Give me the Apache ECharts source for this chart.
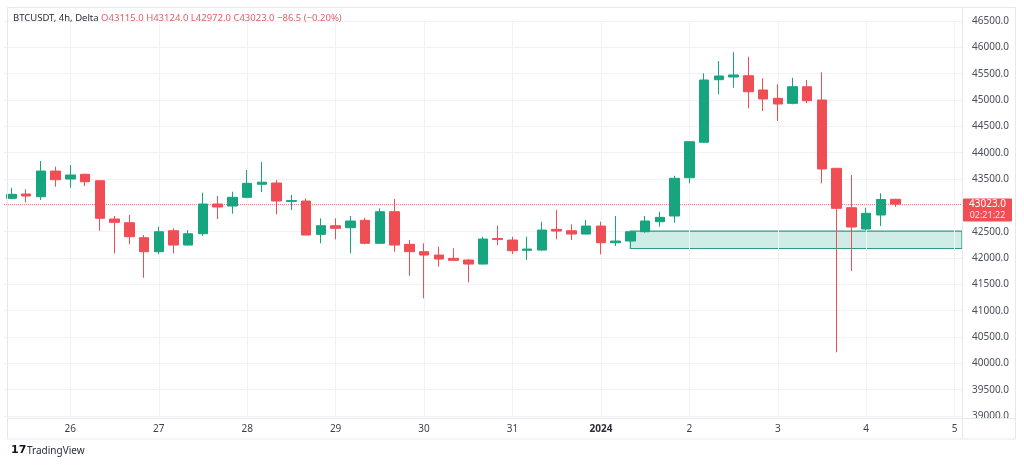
<!DOCTYPE html>
<html>
<head>
<meta charset="utf-8">
<script src="https://cdn.jsdelivr.net/npm/echarts@6/dist/echarts.min.js"></script>
<style>
  html, body { margin: 0; padding: 0; background: #fff; }
  #main { width: 1024px; height: 467px; }
</style>
</head>
<body>
<div id="main"></div>
<script>
// 4h candles BTCUSDT, Dec 25 08:00 -> Jan 4 08:00, plus empty slots up to Jan 5
var times = [
    'Dec 25 08:00','Dec 25 12:00','Dec 25 16:00','Dec 25 20:00',
    'Dec 26 00:00','Dec 26 04:00','Dec 26 08:00','Dec 26 12:00','Dec 26 16:00','Dec 26 20:00',
    'Dec 27 00:00','Dec 27 04:00','Dec 27 08:00','Dec 27 12:00','Dec 27 16:00','Dec 27 20:00',
    'Dec 28 00:00','Dec 28 04:00','Dec 28 08:00','Dec 28 12:00','Dec 28 16:00','Dec 28 20:00',
    'Dec 29 00:00','Dec 29 04:00','Dec 29 08:00','Dec 29 12:00','Dec 29 16:00','Dec 29 20:00',
    'Dec 30 00:00','Dec 30 04:00','Dec 30 08:00','Dec 30 12:00','Dec 30 16:00','Dec 30 20:00',
    'Dec 31 00:00','Dec 31 04:00','Dec 31 08:00','Dec 31 12:00','Dec 31 16:00','Dec 31 20:00',
    'Jan 1 00:00','Jan 1 04:00','Jan 1 08:00','Jan 1 12:00','Jan 1 16:00','Jan 1 20:00',
    'Jan 2 00:00','Jan 2 04:00','Jan 2 08:00','Jan 2 12:00','Jan 2 16:00','Jan 2 20:00',
    'Jan 3 00:00','Jan 3 04:00','Jan 3 08:00','Jan 3 12:00','Jan 3 16:00','Jan 3 20:00',
    'Jan 4 00:00','Jan 4 04:00','Jan 4 08:00','Jan 4 12:00','Jan 4 16:00','Jan 4 20:00',
    'Jan 5 00:00'
];

var opens = [
    43133, 43215, 43163, 43651, 43500, 43589, 43467, 42740, 42670, 42385,
    42119, 42518, 42246, 42461, 43025, 42987, 43152, 43400, 43424, 43075,
    43082, 42449, 42613, 42575, 42715, 42279, 42879, 42260, 42119, 42056,
    41994, 41962, 41885, 42370, 42341, 42146, 42151, 42544, 42518, 42455,
    42607, 42290, 42322, 42499, 42689, 42797, 43524, 44197, 45385, 45437,
    45461, 45190, 45032, 44937, 45252, 45000, 43703, 42955, 42550, 42816,
    43115
];
var highs = [
    43334, 43304, 43841, 43733, 43765, 43600, 43475, 42797, 42816, 42436,
    42594, 42563, 42531, 43239, 43177, 43258, 43670, 43820, 43480, 43196,
    43133, 42753, 42753, 42797, 42765, 42943, 43120, 42341, 42279, 42214,
    42184, 41975, 42404, 42613, 42404, 42404, 42689, 42911, 42639, 42721,
    42689, 42797, 42505, 42797, 42879, 43562, 44215, 45507, 45740, 45906,
    45822, 45412, 45298, 45423, 45380, 45526, 43705, 43576, 42955, 43228,
    43124
];
var lows = [
    43120, 43057, 43101, 43353, 43334, 43367, 42518, 42089, 42260, 41625,
    42070, 42089, 42233, 42423, 42740, 42841, 43133, 43250, 42829, 42911,
    42430, 42279, 42355, 42089, 42260, 42275, 42119, 41663, 41234, 41834,
    41942, 41538, 41880, 42246, 42075, 41961, 42140, 42355, 42341, 42450,
    42070, 42227, 42184, 42480, 42594, 42670, 43418, 44190, 45108, 45233,
    44842, 44791, 44601, 44918, 44937, 43418, 40209, 41752, 42531, 42607,
    42972
];
var closes = [
    43209, 43177, 43651, 43486, 43576, 43448, 42753, 42677, 42404, 42119,
    42499, 42246, 42461, 43025, 42968, 43152, 43418, 43440, 43082, 43090,
    42436, 42613, 42563, 42702, 42279, 42879, 42246, 42119, 42056, 41980,
    41956, 41885, 42360, 42350, 42138, 42170, 42531, 42512, 42455, 42607,
    42290, 42322, 42499, 42702, 42772, 43513, 44208, 45380, 45456, 45475,
    45157, 45019, 44924, 45252, 44987, 43690, 42943, 42588, 42848, 43110,
    43023
];

// demand zone drawn on the chart
var zoneStart = 'Jan 1 08:00';
var zoneTop = 42510;
var zoneBottom = 42180;

var lastPrice = 43023;
var countdown = '02:21:22';

var upColor = '#17a57f';
var downColor = '#f04e55';

function showChart() {
    var myChart = echarts.init(document.getElementById('main'));

    var candles = [];
    for (var i = 0; i < opens.length; i++) {
        candles.push([opens[i], closes[i], lows[i], highs[i]]);
    }

    // day gridlines go through the midnight candles
    var dayLines = [];
    for (var j = 0; j < times.length; j++) {
        if (times[j].slice(-5) === '00:00') {
            dayLines.push({ xAxis: times[j] });
        }
    }
    dayLines.push({
        yAxis: lastPrice,
        lineStyle: { color: '#f04e55', type: 'dotted', width: 1, opacity: 0.7 }
    });

    var font = 'Noto Sans';

    myChart.setOption({
        animation: false,
        backgroundColor: '#fff',
        grid: { left: 4, right: 62, top: 21, bottom: 51 },
        xAxis: {
            type: 'category',
            data: times,
            boundaryGap: true,
            axisLine: { show: false },
            axisTick: { show: false },
            splitLine: { show: false },
            axisLabel: {
                margin: 8,
                fontFamily: font,
                fontSize: 10,
                color: '#3b3f4a',
                interval: function (idx, value) { return value.slice(-5) === '00:00'; },
                formatter: function (value) {
                    if (value === 'Jan 1 00:00') return '{y|2024}';
                    return value.split(' ')[1];
                },
                rich: { y: { fontFamily: font, fontSize: 10, fontWeight: 'bold', color: '#2a2e39' } }
            }
        },
        yAxis: {
            type: 'value',
            position: 'right',
            min: 39000,
            max: 46500,
            interval: 500,
            scale: true,
            axisLine: { show: false },
            axisTick: { show: false },
            splitLine: { lineStyle: { color: '#f1f2f5', width: 1 } },
            axisLabel: {
                margin: 10,
                fontFamily: font,
                fontSize: 10,
                color: '#4a4e59',
                formatter: function (v) { return v.toFixed(1); }
            }
        },
        series: [{
            type: 'candlestick',
            data: candles,
            barWidth: 10,
            itemStyle: {
                color: upColor,
                color0: downColor,
                borderColor: upColor,
                borderColor0: downColor,
                borderWidth: 1
            },
            markLine: {
                silent: true,
                z: 1,
                symbol: ['none', 'none'],
                label: { show: false },
                lineStyle: { color: '#f1f2f5', type: 'solid', width: 1 },
                data: dayLines
            },
            markArea: {
                silent: true,
                z: 1,
                itemStyle: {
                    color: 'rgba(40,170,140,0.22)',
                    borderColor: '#2f9c85',
                    borderWidth: 1.2
                },
                data: [[
                    { xAxis: zoneStart, yAxis: zoneTop },
                    { yAxis: zoneBottom }
                ]]
            }
        }],
        graphic: [
            { type: 'rect', id: 'frame', z: 50, silent: true,
              shape: { x: 7.5, y: 7.5, width: 1008, height: 431.5 },
              style: { fill: 'none', stroke: '#e6e8ee', lineWidth: 1 } },
            { type: 'line', id: 'sepV', z: 50, silent: true,
              shape: { x1: 962.5, y1: 7.5, x2: 962.5, y2: 439 },
              style: { stroke: '#e6e8ee', lineWidth: 1 } },
            { type: 'line', id: 'sepH', z: 50, silent: true,
              shape: { x1: 7.5, y1: 418.5, x2: 1015.5, y2: 418.5 },
              style: { stroke: '#e6e8ee', lineWidth: 1 } },
            { type: 'text', id: 'header', left: 13, top: 13, z: 60,
              style: {
                  text: 'BTCUSDT, 4h, Delta {v|O43115.0} {v|H43124.0} {v|L42972.0} {v|C43023.0} {v|\u221286.5 (\u22120.20%)}',
                  fontFamily: font, fontSize: 9.5, fill: '#2a2e39',
                  rich: { v: { fontFamily: font, fontSize: 9.5, fill: '#e0606a' } }
              } },
            { type: 'text', id: 'logoMark', left: 11, top: 445, z: 60,
              style: { text: '17', fontFamily: 'DejaVu Sans', fontSize: 11, fontWeight: 'bold', fill: '#131722' } },
            { type: 'text', id: 'logoText', left: 27, top: 446, z: 60,
              style: { text: 'TradingView', fontFamily: font, fontSize: 10, fill: '#2a2e39' } }
        ]
    });

    // current price tag on the right scale
    var py = myChart.convertToPixel({ yAxisIndex: 0 }, lastPrice);
    myChart.setOption({
        graphic: [
            { type: 'rect', id: 'tag', z: 70, silent: true,
              shape: { x: 963, y: py - 5.5, width: 49, height: 23, r: 1 },
              style: { fill: '#f04e55' } },
            { type: 'text', id: 'tagPrice', z: 71, silent: true, x: 987.5, y: py,
              style: { text: lastPrice.toFixed(1), fontFamily: font, fontSize: 10, fill: '#fff',
                       align: 'center', verticalAlign: 'middle' } },
            { type: 'text', id: 'tagTime', z: 71, silent: true, x: 987.5, y: py + 11,
              style: { text: countdown, fontFamily: font, fontSize: 9, fill: '#fde3e4',
                       align: 'center', verticalAlign: 'middle' } }
        ]
    });
}

showChart();
</script>
</body>
</html>
